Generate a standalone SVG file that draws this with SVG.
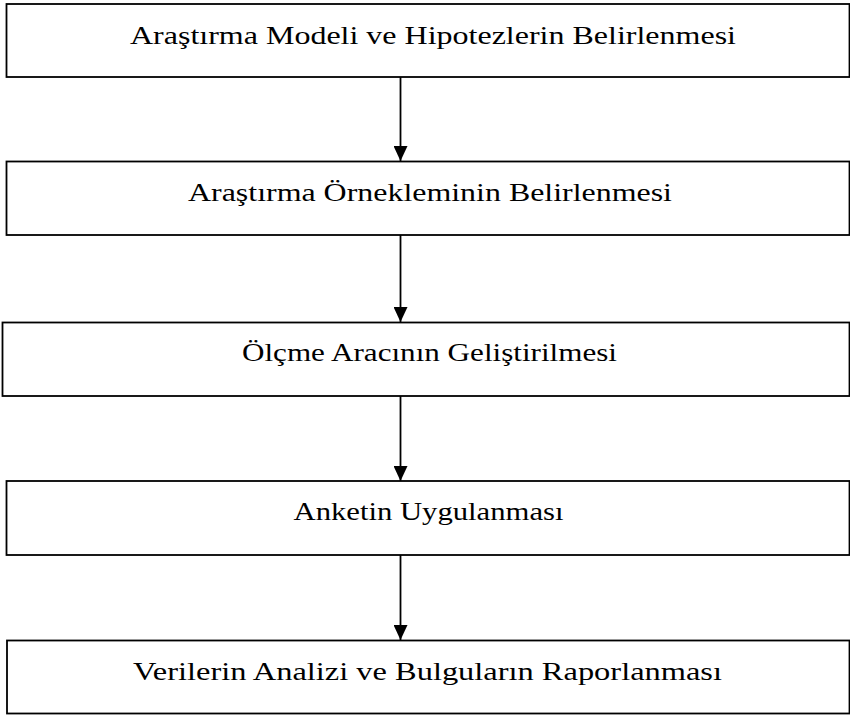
<svg xmlns="http://www.w3.org/2000/svg" width="850" height="715" viewBox="0 0 850 715">
  <style>
    .box { fill: #ffffff; stroke: #000000; stroke-width: 1.8; }
    .label { font-family: "Liberation Serif", "Times New Roman", serif; font-size: 26px; fill: #000000; text-anchor: middle; }
    .conn { stroke: #000000; stroke-width: 1.8; fill: none; marker-end: url(#arrow); }
  </style>
  <defs>
    <marker id="arrow" markerWidth="15" markerHeight="14" refX="15" refY="7" orient="auto" markerUnits="userSpaceOnUse">
      <path d="M0,0 L15,7 L0,14 Z" fill="#000000"/>
    </marker>
  </defs>
  <rect width="850" height="715" fill="#ffffff"/>

  <!-- vertical flow arrows between the steps -->
  <g id="connectors">
    <line class="conn" x1="400.5" y1="77" x2="400.5" y2="161"/>
    <line class="conn" x1="400.5" y1="235" x2="400.5" y2="322"/>
    <line class="conn" x1="400.5" y1="396" x2="400.5" y2="481"/>
    <line class="conn" x1="400.5" y1="555" x2="400.5" y2="640"/>
  </g>

  <g id="step1">
    <rect class="box" x="6.5" y="4" width="843" height="73"/>
    <text class="label" x="433" y="44" textLength="606" lengthAdjust="spacingAndGlyphs">Araştırma Modeli ve Hipotezlerin Belirlenmesi</text>
  </g>
  <g id="step2">
    <rect class="box" x="6.5" y="161.5" width="843" height="73.5"/>
    <text class="label" x="430" y="201" textLength="484" lengthAdjust="spacingAndGlyphs">Araştırma Örnekleminin Belirlenmesi</text>
  </g>
  <g id="step3">
    <rect class="box" x="2.5" y="322.5" width="847" height="73.5"/>
    <text class="label" x="429.5" y="360.5" textLength="375" lengthAdjust="spacingAndGlyphs">Ölçme Aracının Geliştirilmesi</text>
  </g>
  <g id="step4">
    <rect class="box" x="6.5" y="481" width="843" height="74"/>
    <text class="label" x="428.5" y="520" textLength="270" lengthAdjust="spacingAndGlyphs">Anketin Uygulanması</text>
  </g>
  <g id="step5">
    <rect class="box" x="7" y="640.5" width="842.5" height="73"/>
    <text class="label" x="427.5" y="680" textLength="589" lengthAdjust="spacingAndGlyphs">Verilerin Analizi ve Bulguların Raporlanması</text>
  </g>
</svg>
